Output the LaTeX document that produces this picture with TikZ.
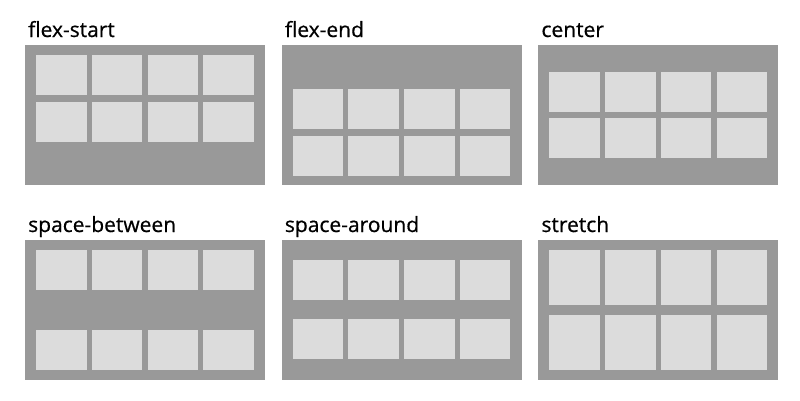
\documentclass[tikz,border=0pt]{standalone}
\usepackage{fontspec}
\setmainfont{Open Sans}[FakeBold=0.6,AutoFakeBold=0.6]
\definecolor{boxgray}{HTML}{999999}
\definecolor{itemgray}{HTML}{DCDCDC}
\begin{document}
\begin{tikzpicture}[x=1pt,y=-1pt,
  container/.style={fill=boxgray,draw=none},
  item/.style={fill=itemgray,draw=none},
  title/.style={anchor=base west,inner sep=0pt,font=\fontsize{21}{24}\selectfont}]
\useasboundingbox (0,0) rectangle (800,400);
\fill[white] (0,0) rectangle (800,400);
% #1 name, #2 x0, #3 y0, #4 title, #5 row1 offset, #6 row2 offset, #7 item height
\newcommand{\flexpanel}[7]{%
  \fill[container] (#2,#3) rectangle ++(240,140);
  \coordinate (#1c) at (#2,#3);
  \node[title] (#1t) at (#2+3,#3-8) {\bfseries #4};
  \foreach \i/\dx in {1/11,2/66.75,3/122.5,4/178.25}{%
    \fill[item] (#2+\dx,#3+#5) rectangle ++(50.5,#7);
    \fill[item] (#2+\dx,#3+#6) rectangle ++(50.5,#7);
  }%
}
\flexpanel{fs}{25}{45}{flex-start}{10}{56.6}{40}
\flexpanel{fe}{281.7}{45}{flex-end}{44.1}{90.7}{40}
\flexpanel{ce}{538.3}{45}{center}{26.7}{73.3}{40}
\flexpanel{sb}{25}{240}{space-between}{10}{90}{40}
\flexpanel{sa}{281.7}{240}{space-around}{20}{79.3}{40}
\flexpanel{st}{538.3}{240}{stretch}{10}{75}{55}
\end{tikzpicture}
\end{document}
